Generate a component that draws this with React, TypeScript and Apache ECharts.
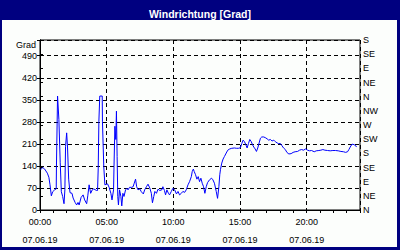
import React, { useEffect, useRef } from "react";
import * as echarts from "echarts";

const titleText = "Windrichtung [Grad]";
const dateLabel = "07.06.19";
const leftAxisName = "Grad";
const compassLabels = ["N", "NE", "E", "SE", "S", "SW", "W", "NW", "N", "NE", "E", "SE", "S"];

// minutes after midnight
const minutes = [
  3, 12, 21, 33, 40, 45, 51, 57, 66, 73, 74, 79, 82, 85, 88, 91, 96, 102, 108, 112,
  115, 120, 124, 129, 135, 144, 149, 158, 165, 171, 176, 185, 194, 201, 210, 215, 221, 228, 235, 242,
  254, 259, 262, 265, 269, 280, 281, 284, 287, 292, 304, 311, 319, 324, 331, 333, 337, 341, 344, 347,
  350, 353, 358, 364, 368, 373, 378, 385, 392, 396, 403, 412, 419, 423, 430, 435, 441, 449, 456, 465,
  471, 479, 486, 494, 501, 506, 512, 517, 524, 531, 539, 548, 553, 560, 565, 571, 578, 583, 591, 598,
  606, 614, 621, 628, 636, 643, 651, 658, 666, 673, 681, 685, 690, 694, 700, 706, 712, 718, 724, 730,
  736, 742, 748, 754, 763, 772, 778, 785, 793, 799, 805, 809, 812, 818, 824, 830, 838, 845, 854, 863,
  875, 884, 893, 902, 908, 914, 920, 926, 932, 938, 944, 950, 956, 962, 968, 974, 980, 986, 992, 998,
  1007, 1016, 1022, 1029, 1037, 1044, 1052, 1059, 1067, 1074, 1082, 1089, 1096, 1104, 1111, 1120, 1130, 1139, 1148, 1159,
  1168, 1177, 1186, 1195, 1204, 1213, 1222, 1234, 1243, 1255, 1264, 1273, 1282, 1294, 1306, 1318, 1330, 1342, 1354, 1366,
  1375, 1384, 1390, 1396, 1403, 1408, 1414, 1420, 1424,
];

// wind direction in degrees
const degrees = [
  128, 135, 130, 117, 104, 80, 45, 58, 64, 67, 138, 362, 362, 288, 288, 150, 58, 43, 20, 64,
  202, 245, 197, 98, 55, 53, 38, 24, 16, 24, 16, 40, 48, 32, 20, 45, 80, 53, 64, 67,
  62, 62, 133, 282, 362, 362, 282, 282, 138, 80, 83, 72, 53, 32, 64, 138, 266, 224, 314, 170,
  43, 16, 64, 43, 13, 53, 43, 64, 69, 64, 72, 72, 74, 83, 98, 74, 64, 67, 58, 51,
  64, 74, 82, 70, 53, 23, 43, 59, 53, 66, 62, 64, 74, 62, 48, 64, 53, 48, 59, 69,
  64, 51, 59, 48, 53, 59, 56, 64, 80, 90, 106, 122, 130, 122, 112, 98, 106, 90, 101, 85,
  74, 53, 74, 87, 96, 101, 96, 85, 59, 37, 74, 112, 128, 149, 162, 170, 181, 190, 194, 196,
  197, 196, 196, 198, 211, 222, 217, 208, 197, 211, 224, 218, 208, 200, 194, 186, 197, 213, 228, 232,
  232, 229, 226, 222, 224, 219, 222, 217, 213, 211, 211, 204, 197, 192, 183, 178, 179, 183, 185, 186,
  190, 192, 190, 194, 190, 188, 189, 185, 188, 189, 190, 192, 190, 189, 188, 189, 189, 188, 186, 185,
  183, 185, 192, 200, 208, 209, 207, 205, 200,
];

const FONT = "'Liberation Sans', Arial, sans-serif";

function pad(n: number) {
  return n < 10 ? "0" + n : String(n);
}

export default function App() {
  const ref = useRef<HTMLDivElement>(null);

  useEffect(() => {
    if (!ref.current) return;
    const chart = echarts.init(ref.current, undefined, { renderer: "svg" });
    const data = minutes.map((m, i) => [m, degrees[i]]);
    const dash = [4, 3];
    chart.setOption({
      animation: false,
      textStyle: { fontFamily: FONT },
      title: {
        text: titleText,
        left: "center",
        top: 3,
        textStyle: { color: "#ffffff", fontSize: 10.5, fontWeight: "bold", fontFamily: FONT },
      },
      grid: {
        left: 40,
        right: 40,
        top: 40,
        bottom: 40,
        show: true,
        borderColor: "#000",
        borderWidth: 1,
        backgroundColor: "transparent",
      },
      graphic: [
        {
          type: "text",
          right: 364,
          top: 40,
          style: { text: leftAxisName, font: "9px " + FONT, fill: "#000", align: "right" },
        },
      ],
      xAxis: [
        {
          type: "value",
          min: 0,
          max: 1440,
          interval: 300,
          axisLine: { show: true, lineStyle: { color: "#000", width: 1 } },
          axisTick: { show: false },
          splitLine: { show: true, lineStyle: { color: "#000", type: dash, width: 1 } },
          axisLabel: {
            color: "#000",
            fontSize: 9,
            fontFamily: FONT,
            lineHeight: 18,
            margin: 3,
            showMaxLabel: false,
            formatter: (v: number) => {
              if (v % 300 !== 0 || v >= 1440) return "";
              return pad(Math.floor(v / 60)) + ":" + pad(v % 60) + "\n" + dateLabel;
            },
          },
        },
        {
          type: "value",
          position: "bottom",
          min: 0,
          max: 1440,
          interval: 60,
          axisLine: { show: false },
          axisTick: { show: true, length: 3, lineStyle: { color: "#000" } },
          splitLine: { show: false },
          axisLabel: { show: false },
        },
      ],
      yAxis: [
        {
          type: "value",
          min: 0,
          max: 540,
          interval: 70,
          position: "left",
          axisLine: { show: true, lineStyle: { color: "#000", width: 1 } },
          axisTick: { show: true, length: 3, lineStyle: { color: "#000" } },
          splitLine: { show: true, lineStyle: { color: "#000", type: dash, width: 1 } },
          axisLabel: {
            color: "#000",
            fontSize: 9,
            fontFamily: FONT,
            margin: 3,
            formatter: (v: number) => (v > 490 ? "" : String(v)),
          },
        },
        {
          type: "value",
          min: 0,
          max: 540,
          interval: 45,
          position: "right",
          axisLine: { show: true, lineStyle: { color: "#000", width: 1 } },
          axisTick: { show: true, length: 3, lineStyle: { color: "#000" } },
          splitLine: { show: false },
          axisLabel: {
            color: "#000",
            fontSize: 9,
            fontFamily: FONT,
            margin: 3,
            formatter: (v: number) => compassLabels[Math.round(v / 45)] ?? "",
          },
        },
      ],
      series: [
        {
          type: "line",
          xAxisIndex: 0,
          yAxisIndex: 0,
          data,
          showSymbol: false,
          symbol: "none",
          lineStyle: { color: "#0000ff", width: 1 },
          itemStyle: { color: "#0000ff" },
          smooth: false,
          z: 5,
        },
      ],
    });
    return () => chart.dispose();
  }, []);

  return (
    <div style={{ position: "fixed", left: 0, top: 0, width: 400, height: 250, background: "#000080" }}>
      <div style={{ position: "absolute", left: 2, top: 20, width: 395, height: 227, background: "#fcfefc" }} />
      <div ref={ref} style={{ position: "absolute", left: 0, top: 0, width: 400, height: 250 }} />
    </div>
  );
}
